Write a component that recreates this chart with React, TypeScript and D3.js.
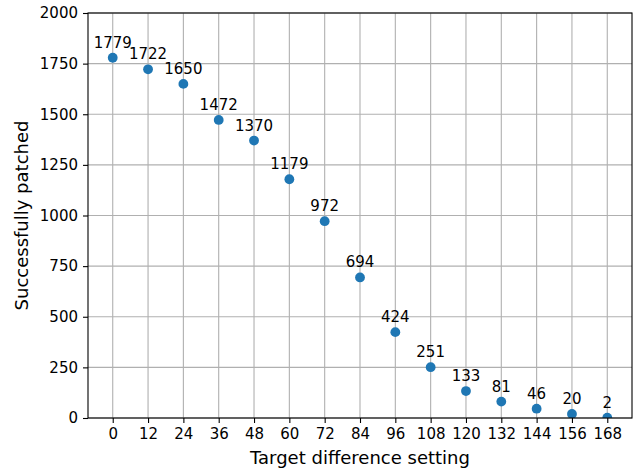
import React, { useRef, useEffect } from "react";
import * as d3 from "d3";

const settings = [0, 12, 24, 36, 48, 60, 72, 84, 96, 108, 120, 132, 144, 156, 168];
const patched = [1779, 1722, 1650, 1472, 1370, 1179, 972, 694, 424, 251, 133, 81, 46, 20, 2];
const yTicks = [0, 250, 500, 750, 1000, 1250, 1500, 1750, 2000];

const WIDTH = 635;
const HEIGHT = 470;

const App = () => {
  const ref = useRef<SVGSVGElement | null>(null);

  useEffect(() => {
    if (!ref.current) return;
    const svg = d3.select(ref.current);
    svg.selectAll("*").remove();

    const margin = { top: 13, right: 3, bottom: 52, left: 88 };
    const w = WIDTH - margin.left - margin.right;
    const h = HEIGHT - margin.top - margin.bottom;
    const font = "DejaVu Sans, sans-serif";

    const x = d3.scaleLinear().domain([-8.4, 176.4]).range([0, w]);
    const y = d3.scaleLinear().domain([0, 2000]).range([h, 0]);

    const chart = svg
      .append("g")
      .attr("transform", `translate(${margin.left},${margin.top})`);

    // grid
    chart
      .append("g")
      .selectAll("line")
      .data(settings)
      .join("line")
      .attr("x1", (d) => x(d))
      .attr("x2", (d) => x(d))
      .attr("y1", 0)
      .attr("y2", h)
      .attr("stroke", "#b0b0b0")
      .attr("stroke-width", 1.1);
    chart
      .append("g")
      .selectAll("line")
      .data(yTicks)
      .join("line")
      .attr("x1", 0)
      .attr("x2", w)
      .attr("y1", (d) => y(d))
      .attr("y2", (d) => y(d))
      .attr("stroke", "#b0b0b0")
      .attr("stroke-width", 1.1);

    // points, clipped to the axes area
    svg
      .append("defs")
      .append("clipPath")
      .attr("id", "plot-clip")
      .append("rect")
      .attr("width", w)
      .attr("height", h);

    chart
      .append("g")
      .attr("clip-path", "url(#plot-clip)")
      .selectAll("circle")
      .data(patched)
      .join("circle")
      .attr("cx", (_, i) => x(settings[i]))
      .attr("cy", (d) => y(d))
      .attr("r", 4.9)
      .attr("fill", "#1f77b4");

    // annotations
    chart
      .append("g")
      .selectAll("text")
      .data(patched)
      .join("text")
      .attr("x", (_, i) => x(settings[i]))
      .attr("y", (d) => y(d) - 10)
      .attr("text-anchor", "middle")
      .style("font-family", font)
      .style("font-size", "15px")
      .style("fill", "#000")
      .text((d) => d);

    // axes
    const xAxis = chart
      .append("g")
      .attr("transform", `translate(0,${h})`)
      .call(d3.axisBottom(x).tickValues(settings).tickSize(5).tickPadding(5).tickSizeOuter(0));
    const yAxis = chart
      .append("g")
      .call(
        d3
          .axisLeft(y)
          .tickValues(yTicks)
          .tickFormat(d3.format("d"))
          .tickSize(5)
          .tickPadding(5)
          .tickSizeOuter(0)
      );
    [xAxis, yAxis].forEach((g) => {
      g.select(".domain").remove();
      g.selectAll(".tick line").attr("stroke", "#000").attr("stroke-width", 1.1);
      g.selectAll("text")
        .style("font-family", font)
        .style("font-size", "15px")
        .style("fill", "#000");
    });

    // frame
    chart
      .append("rect")
      .attr("width", w)
      .attr("height", h)
      .attr("fill", "none")
      .attr("stroke", "#000")
      .attr("stroke-width", 1.1);

    // labels
    svg
      .append("text")
      .attr("x", margin.left + w / 2)
      .attr("y", 464)
      .attr("text-anchor", "middle")
      .style("font-family", font)
      .style("font-size", "18px")
      .text("Target difference setting");
    svg
      .append("text")
      .attr("transform", `translate(28,${margin.top + h / 2}) rotate(-90)`)
      .attr("text-anchor", "middle")
      .style("font-family", font)
      .style("font-size", "18px")
      .text("Successfully patched");
  }, []);

  return (
    <svg
      ref={ref}
      width={WIDTH}
      height={HEIGHT}
      style={{ position: "absolute", left: 0, top: 0, background: "#fff" }}
    />
  );
};

export default App;
